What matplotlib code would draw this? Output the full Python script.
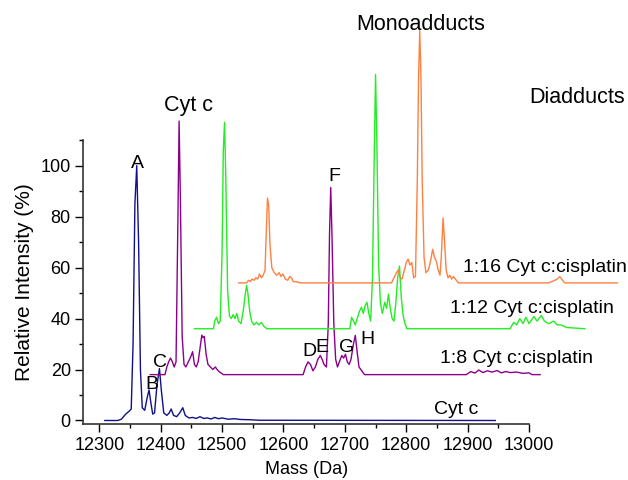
import matplotlib
matplotlib.use("Agg")
import matplotlib.pyplot as plt

plt.rcParams["font.family"] = ["Liberation Sans", "DejaVu Sans"]

# Cyt c (no offset)
cytc_mass = [12309, 12330, 12336, 12343, 12348, 12352, 12355, 12358, 12361, 12364,
             12367, 12370, 12374, 12378, 12381, 12384, 12387, 12390, 12394, 12398,
             12401, 12405, 12410, 12414, 12417, 12421, 12426, 12431, 12436, 12440,
             12446, 12452, 12458, 12464, 12470, 12476, 12482, 12488, 12494, 12500,
             12510, 12520, 12530, 12545, 12560, 12945]
cytc_int = [0, 0, 0.5, 2.5, 3.5, 4.5, 30, 85, 100, 70,
            20, 5, 4, 9, 12, 7, 2.5, 3, 14, 20.4,
            12, 3, 2, 3, 4.5, 2, 1.5, 3, 5, 2,
            1, 1.2, 0.8, 1.5, 0.8, 1, 0.6, 1.2, 0.7, 1,
            0.5, 0.7, 0.4, 0.3, 0.1, 0]

# 1:8 Cyt c:cisplatin
r8_mass = [12383, 12407, 12410, 12413, 12416, 12419, 12422, 12425, 12428, 12430,
           12432, 12435, 12438, 12441, 12445, 12449, 12452, 12455, 12458, 12461,
           12465, 12467, 12469, 12471, 12474, 12477, 12481, 12485, 12489, 12492,
           12496, 12502, 12632, 12636, 12640, 12644, 12648, 12652, 12656, 12660,
           12663, 12666, 12670, 12673, 12675, 12677, 12679, 12682, 12685, 12688,
           12691, 12695, 12698, 12701, 12704, 12707, 12710, 12714, 12717, 12720,
           12723, 12726, 12729, 12732, 12898, 12905, 12912, 12918, 12925, 12932,
           12940, 12948, 12955, 12962, 12970, 12980, 12990, 13000, 13005, 13018]
r8_int = [0, 0, 3, 5, 6.5, 5, 3, 5, 60, 99.5,
          70, 15, 4, 3, 5, 7, 9, 4, 3, 5,
          12, 15.5, 14.5, 15, 8, 4, 3, 2, 3, 2,
          1, 0, 0, 3, 5, 4, 1.5, 3, 6, 7.5,
          6, 4, 3, 20, 55, 73.4, 55, 20, 6, 3,
          5, 7.5, 6.5, 8, 5, 4, 6, 12, 15.4, 9,
          3, 2, 1, 0, 0, 1.2, 0.6, 1.8, 0.8, 1.5,
          1.0, 1.6, 0.7, 1.2, 0.8, 1.0, 0.5, 0.7, 0, 0]

# 1:12 Cyt c:cisplatin
r12_mass = [12455, 12486, 12488, 12491, 12494, 12497, 12500, 12502, 12504, 12506,
            12509, 12512, 12515, 12518, 12521, 12524, 12527, 12531, 12535, 12538,
            12540, 12542, 12545, 12548, 12552, 12556, 12560, 12564, 12568, 12573,
            12708, 12711, 12714, 12717, 12720, 12724, 12727, 12730, 12733, 12736,
            12739, 12742, 12745, 12748, 12750, 12752, 12755, 12758, 12761, 12765,
            12768, 12771, 12774, 12777, 12780, 12783, 12786, 12789, 12792, 12795,
            12798, 12801, 12969, 12975, 12980, 12985, 12990, 12995, 13000, 13008,
            13013, 13020, 13025, 13032, 13040, 13046, 13052, 13061, 13091]
r12_int = [0, 0, 3, 4.5, 2, 3, 30, 70, 81, 60,
           15, 5, 4, 5.5, 4, 6, 3, 2, 8, 14,
           17, 14, 7, 3, 1.5, 2.5, 1.5, 2.5, 1, 0,
           0, 4.5, 3, 1.5, 4, 7, 8.4, 6, 9, 10.4,
           6, 3, 20, 70, 99.8, 75, 25, 10, 6, 10.4,
           8, 13.6, 8, 4, 3, 10, 20, 24.6, 12, 5,
           2, 0, 0, 2.5, 1.5, 4, 2, 4.5, 2, 4.8,
           3, 5.2, 3, 2, 3, 1.5, 1.5, 0.5, 0]

# 1:16 Cyt c:cisplatin
r16_mass = [12527, 12540, 12543, 12546, 12549, 12552, 12555, 12558, 12561, 12564,
            12567, 12570, 12572, 12574, 12576, 12578, 12581, 12585, 12589, 12593,
            12596, 12599, 12603, 12607, 12610, 12613, 12616, 12620, 12627, 12776,
            12780, 12784, 12787, 12790, 12793, 12797, 12800, 12803, 12806, 12809,
            12812, 12815, 12818, 12820, 12822, 12824, 12826, 12829, 12832, 12836,
            12840, 12843, 12846, 12849, 12852, 12855, 12857, 12860, 12862, 12865,
            12868, 12871, 12874, 12877, 12880, 12885, 13032, 13040, 13046, 13050,
            13054, 13058, 13144]
r16_int = [0, 0, 1, 0.5, 1.5, 1, 2, 1.5, 3.5, 2,
           3, 5, 20, 33.3, 30, 15, 6, 4, 3, 4,
           2.5, 3.5, 1.5, 1, 2.5, 2, 0.5, 0.5, 0, 0,
           2, 4, 5, 2, 1.5, 5, 8, 9.3, 7, 8,
           2, 2.5, 40, 80, 99, 80, 40, 10, 4, 5,
           9, 13.2, 10, 8.5, 5, 3, 10, 25.5, 18, 5,
           2, 3, 1.5, 2.5, 1.5, 0, 0, 0.8, 1.5, 2.5,
           1.2, 0, 0]

offsets = [0, 18, 36, 54]
colors = ["#10108a", "#8b008b", "#22ee22", "#ff8040"]
series_labels = ["Cyt c", "1:8 Cyt c:cisplatin", "1:12 Cyt c:cisplatin", "1:16 Cyt c:cisplatin"]
series_label_pos = [(12882, 4.2), (12980, 24.4), (13004, 43.8), (13026, 60)]

peak_letters = ["A", "B", "C", "D", "E", "F", "G", "H"]
peak_pos = [(12362, 101), (12385, 14.3), (12399, 22.6), (12642, 26.9),
            (12662, 28.8), (12683, 95.7), (12703, 28.8), (12736, 31.7)]

headers = ["Cyt c", "Monoadducts", "Diadducts"]
header_pos = [(12445, 123.5), (12824, 155.3), (13078, 126.9)]

traces = [(cytc_mass, cytc_int), (r8_mass, r8_int), (r12_mass, r12_int), (r16_mass, r16_int)]

fig = plt.figure(figsize=(6.28, 4.8), dpi=100)
ax = fig.add_axes([0.1327, 0.116, 0.7097, 0.592])

for (m, v), off, c in zip(traces, offsets, colors):
    ax.plot(m, [i + off for i in v], color=c, lw=1.0, clip_on=False)

for lab, (x, y) in zip(series_labels, series_label_pos):
    ax.text(x, y, lab, fontsize=14, ha="center", va="center", clip_on=False)
for lab, (x, y) in zip(peak_letters, peak_pos):
    ax.text(x, y, lab, fontsize=14, ha="center", va="center", clip_on=False)
for lab, (x, y) in zip(headers, header_pos):
    ax.text(x, y, lab, fontsize=15.5, ha="center", va="center", clip_on=False)

ax.set_xlim(12274, 13000)
ax.set_ylim(-1.5, 110)
ax.set_xticks(range(12300, 13001, 100))
ax.set_xticks(range(12300, 13001, 50), minor=True)
ax.set_yticks(range(0, 101, 20))
ax.set_yticks(range(0, 111, 10), minor=True)
ax.tick_params(which="major", direction="out", length=5.5, width=1, labelsize=13)
ax.tick_params(which="minor", direction="out", length=3, width=1)
ax.spines["top"].set_visible(False)
ax.spines["right"].set_visible(False)
for s in ("left", "bottom"):
    ax.spines[s].set_linewidth(1.2)
    ax.spines[s].set_color("#333333")
ax.set_xlabel("Mass (Da)", fontsize=13, labelpad=5)
ax.set_ylabel("Relative Intensity (%)", fontsize=15, labelpad=5)

fig.savefig("out.png", dpi=100)
